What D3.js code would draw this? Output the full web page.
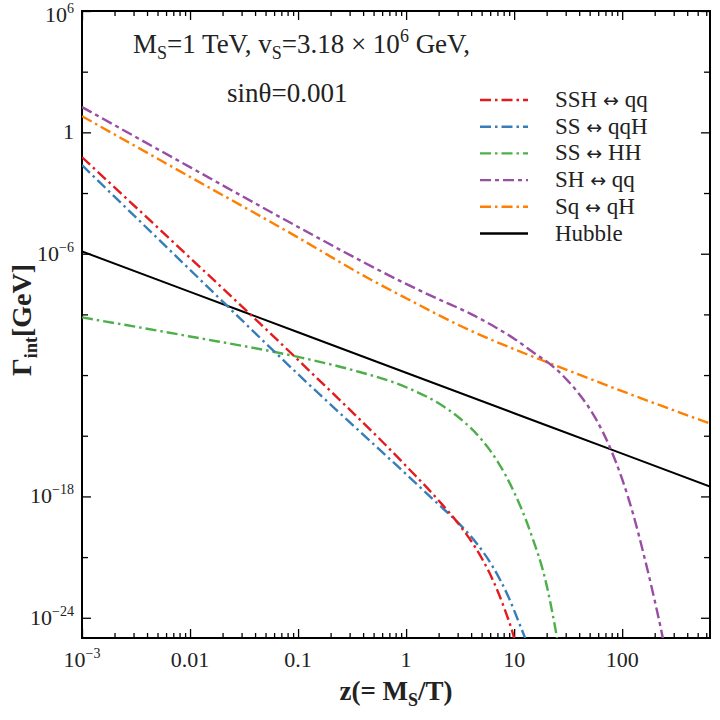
<!DOCTYPE html>
<html><head><meta charset="utf-8">
<script src="https://cdn.jsdelivr.net/npm/d3@7/dist/d3.min.js"></script>
<style>body{margin:0;background:#fff}svg{display:block}</style>
</head><body>
<svg id="chart" width="720" height="720"></svg>
<script>
// ---------- data ----------
const xMajorTicks = [1e-3, 1e-2, 1e-1, 1, 10, 100];
const xMajorLabels = [["10", "−3"], ["0.01", ""], ["0.1", ""], ["1", ""], ["10", ""], ["100", ""]];
const yLabeledTicks = [1e6, 1, 1e-6, 1e-18, 1e-24];
const yLabeledText = [["10", "6"], ["1", ""], ["10", "−6"], ["10", "−18"], ["10", "−24"]];
const yMinorTicks = [1e3, 1e-3, 1e-9, 1e-12, 1e-15, 1e-21];

const seriesNames = ["SSH ↔ qq", "SS ↔ qqH", "SS ↔ HH", "SH ↔ qq", "Sq ↔ qH", "Hubble"];

const ssh_qq_z = [0.001, 0.01, 0.1, 1, 2.0, 3.16, 4.47, 6.31, 7.94, 10, 10.7];
const ssh_qq_G = [5.9e-2, 6.3e-7, 5.6e-12, 3.2e-17, 6.3e-19, 3.5e-20, 2.5e-21, 7.9e-23, 4.0e-24, 1e-25, 2.5e-26];

const ss_qqh_z = [0.001, 0.01, 0.1, 1, 2.0, 3.16, 4.47, 6.31, 8.91, 11.2, 13.2, 14.1];
const ss_qqh_G = [2.4e-2, 1.6e-7, 1.1e-12, 1.26e-17, 4.0e-19, 4.0e-20, 5.0e-21, 3.5e-22, 1e-23, 5.0e-25, 5.0e-26, 1.6e-26];

const ss_hh_z = [0.001, 0.01, 0.1, 0.316, 1, 2.0, 3.16, 5.01, 7.08, 10, 14.1, 20.0, 24.0, 26.3];
const ss_hh_G = [7.1e-10, 8.1e-11, 7.9e-12, 1.8e-12, 2.5e-13, 4.0e-14, 7.1e-15, 6.3e-16, 5.0e-17, 1.6e-18, 1.8e-20, 4.0e-23, 3.2e-25, 2.0e-26];

const sh_qq_z = [0.001, 0.01, 0.1, 0.316, 1, 2.0, 3.92, 6.31, 10, 15.8, 21.5, 31.6, 40.8, 56.2, 77.4, 100, 126, 158, 200, 240, 263];
const sh_qq_G = [17.8, 1.9e-2, 2.1e-5, 7.6e-7, 3.2e-8, 5.6e-9, 1.1e-9, 2.8e-10, 6.3e-11, 1.1e-11, 3.5e-12, 5.0e-13, 1.0e-13, 7.9e-15, 2.5e-16, 7.1e-18, 1.4e-19, 1.4e-21, 7.1e-24, 7.9e-26, 6.3e-27];

const sq_qh_z = [0.001, 0.01, 0.1, 0.46, 1, 3.92, 10, 21.5, 100, 650];
const sq_qh_G = [6.3, 6.3e-3, 6.3e-6, 5.6e-8, 6.3e-9, 1.6e-10, 1.9e-11, 3.8e-12, 1.6e-13, 4.0e-15];

const hubble_z = [0.001, 0.01, 0.1, 1, 10, 100, 650];
const hubble_G = [1.3e-6, 1.3e-8, 1.3e-10, 1.3e-12, 1.3e-14, 1.3e-16, 3.1e-18];

// ---------- layout ----------
const L = 82, R = 710, T = 11, B = 638;
const FONT = "'Liberation Serif','Times New Roman',serif";

const svg = d3.select("#chart");
const x = d3.scaleLog().domain([1e-3, 650]).range([L, R]);
const y = d3.scaleLog().domain([1e-25, 1e6]).range([B, T]);

svg.append("defs").append("clipPath").attr("id", "plotclip")
  .append("rect").attr("x", L).attr("y", T).attr("width", R - L).attr("height", B - T);

const xMinor = [];
for (let e = -3; e <= 2; e++) for (let k = 2; k <= 9; k++) { const v = k * Math.pow(10, e); if (v < 650) xMinor.push(v); }

function styleAxis(g) {
  g.select(".domain").remove();
  g.selectAll("text").remove();
  g.selectAll("line").attr("stroke", "#000").attr("stroke-width", 1.3);
}

[[d3.axisBottom, B], [d3.axisTop, T]].forEach(([ax, pos]) => {
  svg.append("g").attr("transform", `translate(0,${pos})`)
    .call(ax(x).tickValues(xMajorTicks).tickSize(-9).tickFormat("")).call(styleAxis);
  svg.append("g").attr("transform", `translate(0,${pos})`)
    .call(ax(x).tickValues(xMinor).tickSize(-5).tickFormat("")).call(styleAxis);
});
[[d3.axisLeft, L], [d3.axisRight, R]].forEach(([ax, pos]) => {
  svg.append("g").attr("transform", `translate(${pos},0)`)
    .call(ax(y).tickValues(yLabeledTicks).tickSize(-9).tickFormat("")).call(styleAxis);
  svg.append("g").attr("transform", `translate(${pos},0)`)
    .call(ax(y).tickValues(yMinorTicks).tickSize(-6).tickFormat("")).call(styleAxis);
});

// tick labels
const xl = svg.append("g").attr("font-family", FONT).attr("font-size", 22).attr("fill", "#222");
xMajorTicks.forEach((v, i) => {
  const t = xl.append("text").attr("x", x(v)).attr("y", B + 29).attr("text-anchor", "middle");
  t.append("tspan").text(xMajorLabels[i][0]);
  if (xMajorLabels[i][1]) t.append("tspan").attr("dy", -9).attr("font-size", 14).text(xMajorLabels[i][1]);
});
const yl = svg.append("g").attr("font-family", FONT).attr("font-size", 22).attr("fill", "#222");
yLabeledTicks.forEach((v, i) => {
  const t = yl.append("text").attr("x", L - 8).attr("y", Math.max(y(v) + 7, 22)).attr("text-anchor", "end");
  t.append("tspan").text(yLabeledText[i][0]);
  if (yLabeledText[i][1]) t.append("tspan").attr("dy", -9).attr("font-size", 14).text(yLabeledText[i][1]);
});

// frame
svg.append("rect").attr("x", L).attr("y", T).attr("width", R - L).attr("height", B - T)
  .attr("fill", "none").attr("stroke", "#000").attr("stroke-width", 2);

// series
const series = [
  { name: seriesNames[5], z: hubble_z, g: hubble_G, color: "#000000", dash: null },
  { name: seriesNames[2], z: ss_hh_z, g: ss_hh_G, color: "#4daf4a", dash: "11,4,2.5,4" },
  { name: seriesNames[4], z: sq_qh_z, g: sq_qh_G, color: "#ff7f00", dash: "11,4,2.5,4" },
  { name: seriesNames[3], z: sh_qq_z, g: sh_qq_G, color: "#984ea3", dash: "11,4,4,4" },
  { name: seriesNames[1], z: ss_qqh_z, g: ss_qqh_G, color: "#377eb8", dash: "11,4,2.5,4" },
  { name: seriesNames[0], z: ssh_qq_z, g: ssh_qq_G, color: "#e41a1c", dash: "11,4,2.5,4" }
];
const line = d3.line().x(d => x(d[0])).y(d => y(d[1])).curve(d3.curveMonotoneX);
const plot = svg.append("g").attr("clip-path", "url(#plotclip)");
series.forEach(s => {
  plot.append("path").datum(d3.zip(s.z, s.g)).attr("d", line)
    .attr("fill", "none").attr("stroke", s.color).attr("stroke-width", s.dash ? 2.4 : 2)
    .attr("stroke-dasharray", s.dash);
});

// legend
const lg = svg.append("g").attr("font-family", FONT).attr("font-size", 23).attr("fill", "#222");
seriesNames.forEach((nm, i) => {
  const s = series.find(d => d.name === nm);
  const yy = 100 + i * 26.7;
  lg.append("line").attr("x1", 480).attr("x2", 528).attr("y1", yy).attr("y2", yy)
    .attr("stroke", s.color).attr("stroke-width", 2.4).attr("stroke-dasharray", s.dash);
  const t = lg.append("text").attr("x", 555).attr("y", yy + 7);
  const parts = nm.split("↔");
  if (parts.length === 2) {
    t.append("tspan").text(parts[0]);
    t.append("tspan").attr("font-family", "'DejaVu Sans',sans-serif").attr("font-size", 19).text("↔");
    t.append("tspan").text(parts[1]);
  } else {
    t.text(nm);
  }
});

// annotation
const ann = svg.append("g").attr("font-family", FONT).attr("font-size", 27).attr("fill", "#222");
const a1 = ann.append("text").attr("x", 133).attr("y", 53);
a1.append("tspan").text("M");
a1.append("tspan").attr("dy", 6).attr("font-size", 18).text("S");
a1.append("tspan").attr("dy", -6).text("=1 TeV, v");
a1.append("tspan").attr("dy", 6).attr("font-size", 18).text("S");
a1.append("tspan").attr("dy", -6).text("=3.18 × 10");
a1.append("tspan").attr("dy", -11).attr("font-size", 18).text("6");
a1.append("tspan").attr("dy", 11).text(" GeV,");
ann.append("text").attr("x", 227).attr("y", 102).text("sinθ=0.001");

// axis titles
const xt = svg.append("text").attr("x", 396).attr("y", 700).attr("text-anchor", "middle")
  .attr("font-family", FONT).attr("font-size", 27).attr("font-weight", "bold").attr("fill", "#222");
xt.append("tspan").text("z(= M");
xt.append("tspan").attr("dy", 6).attr("font-size", 18).text("S");
xt.append("tspan").attr("dy", -6).text("/T)");

const yt = svg.append("text").attr("transform", "translate(31,320) rotate(-90)").attr("text-anchor", "middle")
  .attr("font-family", FONT).attr("font-size", 28).attr("font-weight", "bold").attr("fill", "#222");
yt.append("tspan").text("Γ");
yt.append("tspan").attr("dy", 6).attr("font-size", 18).text("int");
yt.append("tspan").attr("dy", -6).text("[GeV]");
</script>
</body></html>
